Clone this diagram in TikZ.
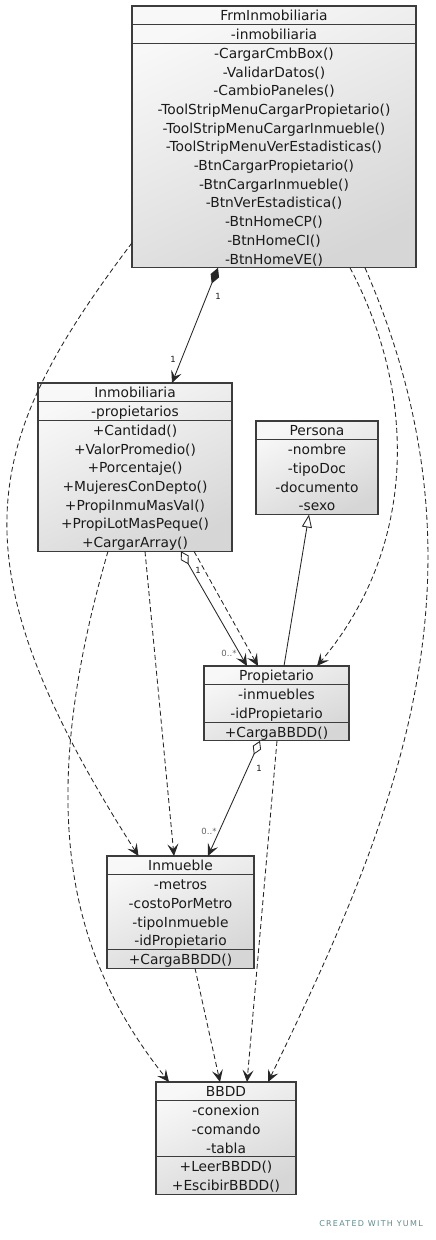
\documentclass[tikz,border=0pt]{standalone}
\usepackage{fontspec}
\setmainfont{DejaVu Sans}
\usetikzlibrary{arrows.meta,calc}

\definecolor{ink}{HTML}{1A1A1A}
\definecolor{boxline}{HTML}{3C3C3C}
\definecolor{boxtop}{HTML}{F8F8F8}
\definecolor{boxbot}{HTML}{D6D6D6}
\definecolor{edgecol}{HTML}{262626}
\definecolor{multcol}{HTML}{666666}
\definecolor{credit}{HTML}{5F8C8C}

\def\rowh{18.7}
\def\baseoff{5.6}

\tikzset{
  classbox/.style={draw=boxline, line width=1.2pt, anchor=north west,
    inner sep=0pt, outer sep=0pt,
    top color=boxtop, bottom color=boxbot, shading angle=25},
  classline/.style={draw=boxline, line width=1.2pt},
  rowtext/.style={anchor=base, inner sep=0pt, text=ink,
    font=\fontsize{13.8}{16}\selectfont},
  vee/.tip={Stealth[length=12pt,width=11pt,inset=5pt]},
  edge/.style={draw=edgecol, line width=0.85pt},
  dep/.style={edge, dash pattern=on 5pt off 3pt, -vee},
  mult/.style={inner sep=0pt, text=ink, font=\fontsize{8.5}{10}\selectfont},
  multgray/.style={mult, text=multcol},
}

% class box: name, x, y (top left), width, title,
% number of attributes, attributes, number of methods, methods
\newcommand\umlclass[9]{%
  \node[classbox, minimum width=#4pt, minimum height={(1+#6+#8)*\rowh pt}] (#1) at (#2,#3) {};
  \draw[classline] ($(#1.north west)+(0,\rowh)$) -- ($(#1.north east)+(0,\rowh)$);
  \ifnum#8>0\relax
    \draw[classline] ($(#1.north west)+(0,{(1+#6)*\rowh})$) -- ($(#1.north east)+(0,{(1+#6)*\rowh})$);
  \fi
  \node[rowtext] (#1-title) at ($(#1.north)+(0,{0.5*\rowh+\baseoff})$) {#5};
  \foreach \s [count=\i] in {#7}
    \node[rowtext] (#1-a\i) at ($(#1.north)+(0,{(\i+0.5)*\rowh+\baseoff})$) {\s};
  \ifnum#8>0\relax
    \foreach \s [count=\i] in {#9}
      \node[rowtext] (#1-m\i) at ($(#1.north)+(0,{(#6+\i+0.5)*\rowh+\baseoff})$) {\s};
  \fi
}

\begin{document}
\begin{tikzpicture}[x=1pt, y=-1pt]
  \fill[white] (0,0) rectangle (436,1240);
  \useasboundingbox (0,0) rectangle (436,1240);

  % classes
  \umlclass{frm}{132}{6}{284}{FrmInmobiliaria}{1}{-inmobiliaria}{12}{%
    -CargarCmbBox(),-ValidarDatos(),-CambioPaneles(),%
    -ToolStripMenuCargarPropietario(),-ToolStripMenuCargarInmueble(),%
    -ToolStripMenuVerEstadisticas(),-BtnCargarPropietario(),%
    -BtnCargarInmueble(),-BtnVerEstadistica(),-BtnHomeCP(),-BtnHomeCI(),-BtnHomeVE()}
  \umlclass{inmo}{38}{383}{194}{Inmobiliaria}{1}{-propietarios}{7}{%
    +Cantidad(),+ValorPromedio(),+Porcentaje(),+MujeresConDepto(),%
    +PropiInmuMasVal(),+PropiLotMasPeque(),+CargarArray()}
  \umlclass{pers}{256}{421}{122}{Persona}{4}{-nombre,-tipoDoc,-documento,-sexo}{0}{}
  \umlclass{prop}{204}{666}{145}{Propietario}{2}{-inmuebles,-idPropietario}{1}{+CargaBBDD()}
  \umlclass{inmu}{107}{856}{147}{Inmueble}{4}{-metros,-costoPorMetro,-tipoInmueble,-idPropietario}{1}{+CargaBBDD()}
  \umlclass{bbdd}{156}{1082}{140}{BBDD}{3}{-conexion,-comando,-tabla}{2}{+LeerBBDD(),+EscibirBBDD()}

  % composition FrmInmobiliaria -> Inmobiliaria
  \draw[edge, {Diamond[length=17pt,width=9pt,fill=edgecol]}-vee]
    ($(frm.south)+(-56,0)$) -- ($(inmo.north)+(37,0)$);
  \node[mult] (m1) at (218,296) {1};
  \node[mult] (m2) at (173,359) {1};

  % aggregation Inmobiliaria -> Propietario
  \draw[edge, {Diamond[open,length=15pt,width=9pt,fill=white]}-vee]
    ($(inmo.south)+(46,0)$) -- ($(prop.north)+(-29.5,0)$);
  \node[mult] (m3) at (198,570) {1};
  \node[multgray] (m4) at (229,653) {0..*};

  % aggregation Propietario -> Inmueble
  \draw[edge, {Diamond[open,length=15pt,width=9pt,fill=white]}-vee]
    ($(prop.south)+(-16.5,0)$) -- ($(inmu.north)+(27.5,0)$);
  \node[mult] (m5) at (259,768) {1};
  \node[multgray] (m6) at (209,831) {0..*};

  % generalisation Propietario -> Persona
  \draw[edge, -{Triangle[open,length=13pt,width=10pt,fill=white]}]
    ($(prop.north)+(7.5,0)$) -- ($(pers.south)+(-8,0)$);

  % dependencies
  \draw[dep] ($(frm.south west)+(0,-25)$) .. controls (-19,443) and (-51,559) .. ($(inmu.north)+(-42,0)$);
  \draw[dep] ($(frm.south)+(76,0)$) .. controls (420,400) and (414,551) .. ($(prop.north)+(40.5,0)$);
  \draw[dep] ($(frm.south)+(91,0)$) .. controls (497,572) and (400,811) .. ($(bbdd.north)+(42,0)$);
  \draw[dep] ($(inmo.south)+(59,0)$) -- ($(prop.north)+(-18.5,0)$);
  \draw[dep] ($(inmo.south)+(10,0)$) -- ($(inmu.north)+(-6.5,0)$);
  \draw[dep] ($(inmo.south)+(-27,0)$) .. controls (30,820) and (75,963) .. ($(bbdd.north)+(-57,0)$);
  \draw[dep] ($(prop.south)+(0.5,0)$) -- ($(bbdd.north)+(21,0)$);
  \draw[dep] ($(inmu.south)+(14.5,0)$) -- ($(bbdd.north)+(-6,0)$);

  % credit line
  \node[inner sep=0pt, text=credit, font=\fontsize{8}{9}\selectfont\addfontfeature{LetterSpace=16}]
    (credit) at (371,1224) {CREATED WITH YUML};
\end{tikzpicture}
\end{document}
